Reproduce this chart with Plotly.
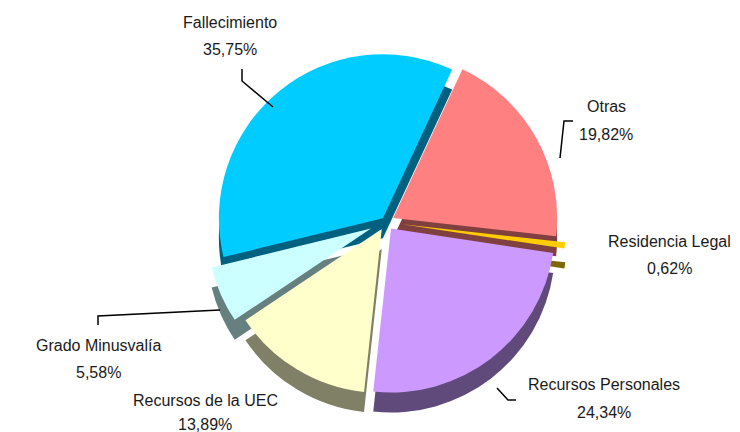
import plotly.graph_objects as go

labels = ["Otras", "Residencia Legal", "Recursos Personales", "Recursos de la UEC",
          "Grado Minusvalía", "Fallecimiento"]
values = [19.82, 0.62, 24.34, 13.89, 5.58, 35.75]
value_text = ["19,82%", "0,62%", "24,34%", "13,89%", "5,58%", "35,75%"]
top_colors = ["#FF8080", "#FFCC00", "#CC99FF", "#FFFFCC", "#CCFFFF", "#00CCFF"]
side_colors = ["#804040", "#806600", "#604A7B", "#808066", "#668080", "#006080"]
pulls = [0.05, 0.1, 0.05, 0.05, 0.1, 0.03]

W, H = 740, 432
FONT = "Liberation Sans, Arial, sans-serif"

cx, cy, r = 378, 214, 164
maxpull = max(pulls)
half = r * (1 + maxpull)
depth = 20


def dom(shift):
    return dict(x=[(cx - half) / W, (cx + half) / W],
                y=[1 - (cy + half + shift) / H, 1 - (cy - half + shift) / H])


common = dict(labels=labels, values=values, sort=False, direction="clockwise",
              rotation=25, pull=pulls, textinfo="none", hoverinfo="skip",
              showlegend=False)

fig = go.Figure()
fig.add_trace(go.Pie(**common, domain=dom(depth),
                     marker=dict(colors=side_colors, line=dict(width=0))))
fig.add_trace(go.Pie(**common, domain=dom(0),
                     marker=dict(colors=top_colors, line=dict(width=0))))

# label placements: pixel centres of name line and value line
label_pos = {
    "Fallecimiento": (222, 20, 47),
    "Otras": (598, 103, 132),
    "Residencia Legal": (661, 239, 265),
    "Recursos Personales": (596, 381, 409),
    "Recursos de la UEC": (197, 397, 421),
    "Grado Minusvalía": (90, 342, 369),
}
OFF = -5
for lab, vt in zip(labels, value_text):
    x, y1, y2 = label_pos[lab]
    for txt, y in ((lab, y1), (vt, y2)):
        fig.add_annotation(x=x / W, y=1 - (y + OFF) / H, xref="paper", yref="paper",
                           text=txt, showarrow=False,
                           font=dict(family=FONT, size=16, color="#1a1a1a"),
                           xanchor="center", yanchor="middle")

leaders = [
    [(234, 61), (234, 73), (265, 99)],
    [(565, 113), (556, 113), (552, 150)],
    [(90, 317), (90, 308), (212, 302)],
    [(508, 392), (500, 392), (489, 380)],
]
for pts in leaders:
    path = "M " + " L ".join(f"{x / W},{1 - y / H}" for x, y in pts)
    fig.add_shape(type="path", path=path, xref="paper", yref="paper",
                  line=dict(color="black", width=1.5))

fig.update_layout(width=W, height=H, margin=dict(l=0, r=0, t=0, b=0),
                  paper_bgcolor="white", plot_bgcolor="white")

fig.write_html("out.html")
